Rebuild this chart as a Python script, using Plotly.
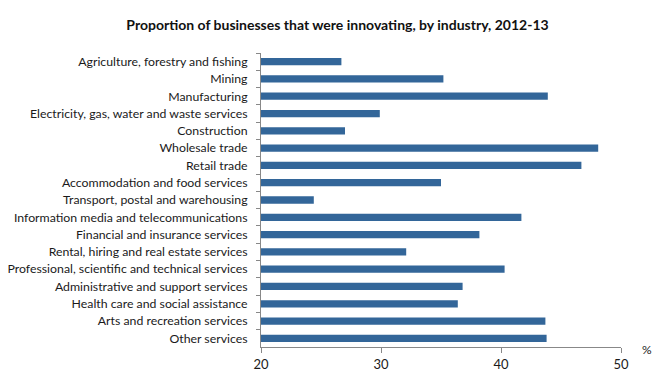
import plotly.graph_objects as go

categories = [
    "Agriculture, forestry and fishing",
    "Mining",
    "Manufacturing",
    "Electricity, gas, water and waste services",
    "Construction",
    "Wholesale trade",
    "Retail trade",
    "Accommodation and food services",
    "Transport, postal and warehousing",
    "Information media and telecommunications",
    "Financial and insurance services",
    "Rental, hiring and real estate services",
    "Professional, scientific and technical services",
    "Administrative and support services",
    "Health care and social assistance",
    "Arts and recreation services",
    "Other services",
]
values = [26.7, 35.2, 43.9, 29.9, 27.0, 48.1, 46.7, 35.0, 24.4, 41.7, 38.2, 32.1, 40.3, 36.8, 36.4, 43.7, 43.8]
x_ticks = [20, 30, 40, 50]

fig = go.Figure(go.Bar(
    y=categories, x=values, orientation="h",
    marker=dict(color="#336699", line=dict(width=0)),
    width=0.42, base=0,
))

fig.update_layout(
    width=659, height=369,
    margin=dict(l=253, r=46, t=45, b=30, autoexpand=False),
    paper_bgcolor="white", plot_bgcolor="white",
    showlegend=False,
    font=dict(family="Lato", size=12.3, color="#1a1a1a"),
    title=dict(text="<b>Proportion of businesses that were innovating, by industry, 2012-13</b>",
               x=0.5, xanchor="center", y=0.953, yanchor="middle",
               font=dict(family="Lato", size=14, color="#111")),
)
fig.update_xaxes(range=[20, 50], tickvals=x_ticks, ticktext=[str(v) for v in x_ticks],
                 showgrid=False, zeroline=False, showline=True, linecolor="#888", linewidth=1,
                 ticks="outside", ticklen=5, tickcolor="#888", automargin=False,
                 tickfont=dict(size=13))
fig.update_yaxes(autorange="reversed", showgrid=False, zeroline=False,
                 showline=True, linecolor="#888", linewidth=1, automargin=False,
                 ticks="outside", ticklen=4, tickcolor="#888", tickson="boundaries",
                 ticklabelstandoff=10,
                 tickfont=dict(size=12.3))
fig.add_annotation(text="%", x=1.072, y=-0.01, xref="paper", yref="paper", showarrow=False,
                   xanchor="center", yanchor="middle", font=dict(size=12))
fig.write_html("out.html")
